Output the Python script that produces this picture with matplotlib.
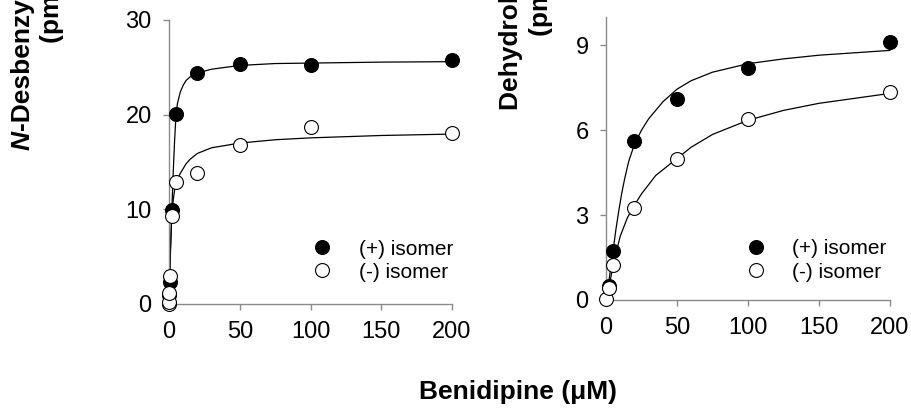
import matplotlib.pyplot as plt

plt.rcParams['font.family'] = ['Liberation Sans', 'DejaVu Sans']

# left panel: N-desbenzyl formation, measured points
conc_plus_L = [0.2, 0.5, 2, 5, 20, 50, 100, 200]
rate_plus_L = [1.0, 2.3, 9.9, 20.1, 24.4, 25.4, 25.2, 25.8]
conc_minus_L = [0, 0.1, 0.2, 0.5, 2, 5, 20, 50, 100, 200]
rate_minus_L = [0.0, 0.2, 1.2, 3.0, 9.3, 12.9, 13.8, 16.8, 18.7, 18.1]

# left panel fitted curves
fit_x_plus_L = [0, 0.5, 1, 2, 3, 4, 5, 6, 8, 10, 12, 15, 20, 30, 50, 75, 100, 150, 200]
fit_y_plus_L = [0, 2.3, 5.2, 9.9, 14.0, 17.4, 20.1, 21.2, 22.4, 23.1, 23.6, 24.0, 24.4, 24.8, 25.2, 25.4, 25.45, 25.55, 25.6]
fit_x_minus_L = [0, 0.5, 1, 2, 3, 4, 5, 6, 8, 10, 12, 15, 20, 30, 50, 75, 100, 150, 200]
fit_y_minus_L = [0, 3.0, 5.8, 9.3, 11.0, 12.1, 12.7, 13.2, 13.8, 14.3, 14.8, 15.3, 15.9, 16.5, 17.0, 17.35, 17.55, 17.8, 17.95]

# right panel: dehydro formation, measured points
conc_plus_R = [2, 5, 20, 50, 100, 200]
rate_plus_R = [0.5, 1.73, 5.62, 7.1, 8.2, 9.1]
conc_minus_R = [0, 2, 5, 20, 50, 100, 200]
rate_minus_R = [0.03, 0.42, 1.24, 3.25, 4.98, 6.38, 7.34]

# right panel fitted curves
fit_x_plus_R = [0, 2, 5, 7, 9, 11, 13, 16, 20, 25, 30, 40, 50, 60, 75, 100, 125, 150, 200]
fit_y_plus_R = [0, 0.65, 1.75, 2.5, 3.15, 3.75, 4.25, 4.9, 5.5, 6.0, 6.4, 7.0, 7.45, 7.75, 8.05, 8.35, 8.52, 8.65, 8.82]
fit_x_minus_R = [0, 2, 5, 8, 10, 15, 20, 25, 35, 50, 60, 75, 100, 125, 150, 200]
fit_y_minus_R = [0, 0.45, 1.2, 1.85, 2.25, 2.9, 3.35, 3.75, 4.4, 5.0, 5.4, 5.85, 6.35, 6.7, 6.95, 7.3]

xticks = [0, 50, 100, 150, 200]
yticks_L = [0, 10, 20, 30]
yticks_R = [0, 3, 6, 9]
legend_labels = ['(+) isomer', '(-) isomer']

fig = plt.figure(figsize=(9.11, 4.08), dpi=100)
ax1 = fig.add_axes([169 / 911, 1 - 304 / 408, 283 / 911, 284 / 408])
ax2 = fig.add_axes([606 / 911, 1 - 300 / 408, 284 / 911, 283 / 408])


def style_axis(ax, yticks, ylim):
    ax.set_xlim(0, 200)
    ax.set_ylim(*ylim)
    ax.set_xticks(xticks)
    ax.set_yticks(yticks)
    for s in ['top', 'right']:
        ax.spines[s].set_visible(False)
    for s in ['left', 'bottom']:
        ax.spines[s].set_color('#8a8a8a')
        ax.spines[s].set_linewidth(1.0)
    ax.tick_params(direction='out', length=4.5, width=1.0, color='#8a8a8a',
                   labelsize=17, labelcolor='black')
    ax.tick_params(axis='x', pad=8)
    ax.tick_params(axis='y', pad=8)


def draw_panel(ax, fxp, fyp, fxm, fym, xp, yp, xm, ym):
    ax.plot(fxp, fyp, color='black', lw=0.9, clip_on=False)
    ax.plot(fxm, fym, color='black', lw=0.9, clip_on=False)
    # filled first, open circles sit on top of them (as in the source)
    ax.plot(xp, yp, 'o', ms=10, mfc='black', mec='black', mew=0.8,
            clip_on=False, zorder=3, label=legend_labels[0])
    ax.plot(xm, ym, 'o', ms=10, mfc='white', mec='black', mew=0.8,
            clip_on=False, zorder=4, label=legend_labels[1])


draw_panel(ax1, fit_x_plus_L, fit_y_plus_L, fit_x_minus_L, fit_y_minus_L,
           conc_plus_L, rate_plus_L, conc_minus_L, rate_minus_L)
draw_panel(ax2, fit_x_plus_R, fit_y_plus_R, fit_x_minus_R, fit_y_minus_R,
           conc_plus_R, rate_plus_R, conc_minus_R, rate_minus_R)
style_axis(ax1, yticks_L, (0, 30))
style_axis(ax2, yticks_R, (0, 10))

for ax, anchor in [(ax1, (0.505, 0.227)), (ax2, (0.49, 0.214))]:
    ax.legend(loc='upper left', bbox_to_anchor=anchor,
              frameon=False, fontsize=15, numpoints=1, handlelength=1.0,
              handletextpad=1.25, labelspacing=0.2, borderpad=0,
              borderaxespad=0)

# y labels (cut off at the top of the figure, as in the source)
lab = dict(rotation=90, fontsize=19, fontweight='bold', ha='center')
fig.text(23 / 911, 1 - 131 / 408, 'N', va='top', style='italic', **lab)
fig.text(23 / 911, 1 - 131 / 408, '-Desbenzylbenidipine formation',
         va='bottom', **lab)
fig.text(52 / 911, 1 - 43 / 408, '(pmol/min/pmol P450)', va='bottom', **lab)
fig.text(511 / 911, 1 - 110 / 408, 'Dehydrobenidipine formation',
         va='bottom', **lab)
fig.text(541 / 911, 1 - 36 / 408, '(pmol/min/pmol P450)', va='bottom', **lab)

fig.text(518 / 911, 1 - 392 / 408, 'Benidipine (\u03bcM)', fontsize=19,
         fontweight='bold', ha='center', va='center')

fig.savefig('out.png', dpi=100)
